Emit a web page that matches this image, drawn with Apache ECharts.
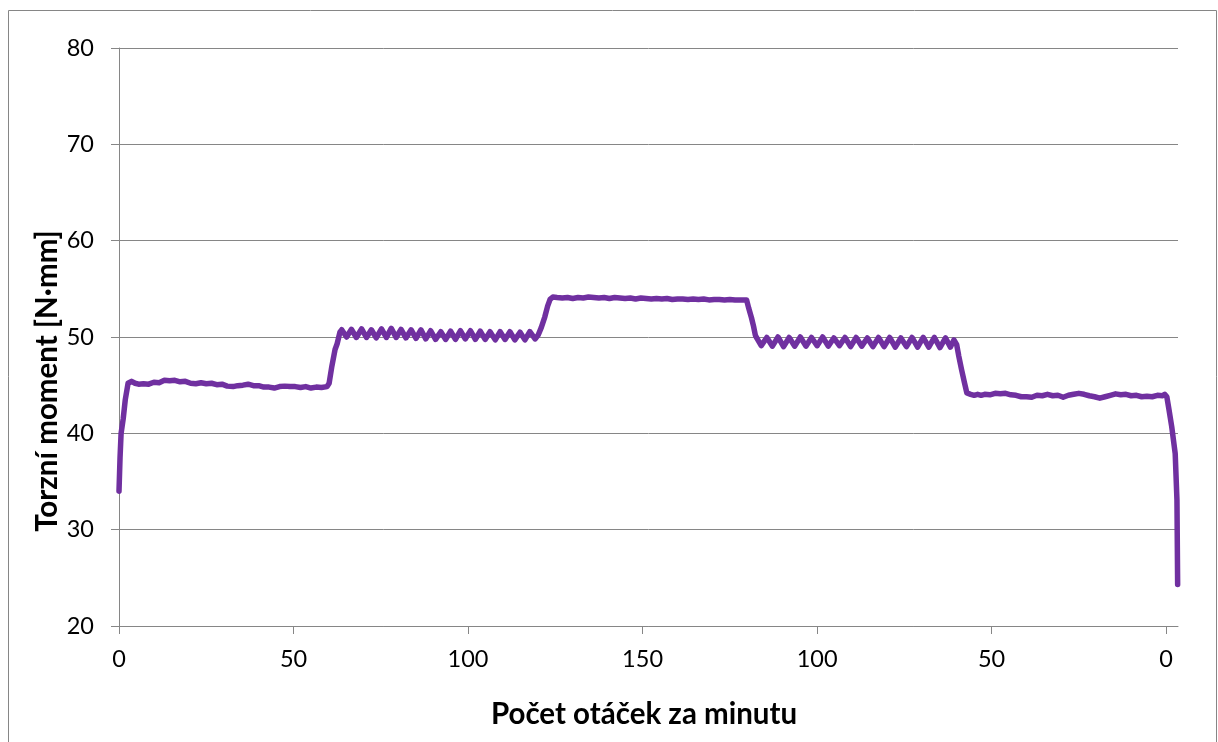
<!DOCTYPE html>
<html>
<head>
<meta charset="utf-8">
<script src="https://cdn.jsdelivr.net/npm/echarts@6/dist/echarts.min.js"></script>
<style>
  html, body { margin: 0; padding: 0; background: #fff; }
  #chart { width: 1218px; height: 742px; }
</style>
</head>
<body>
<div id="chart"></div>
<script>
// osa x: poloha v průběhu zkoušky (rozběh 0 -> 150 ot/min -> doběh zpět na 0)
const xTickValues = [0, 50, 100, 150, 200, 250, 300];
const xTickLabels = ["0", "50", "100", "150", "100", "50", "0"];
const yTicks = [20, 30, 40, 50, 60, 70, 80];
const xTitle = "Počet otáček za minutu";
const yTitle = "Torzní moment [N·mm]";

// [poloha, torzní moment]
const rozbeh = [
  [0, 34.0], [0.3, 37.5], [0.6, 40.0], [1.2, 41.5], [1.8, 43.5], [2.6, 45.2], [3.6, 45.4]
];
const stupen1 = [
  [4.6, 45.2], [5.6, 45.1], [7, 45.15], [8.5, 45.1], [10, 45.3], [11.5, 45.25], [13, 45.5],
  [14.5, 45.45], [16, 45.5], [17.5, 45.35], [19, 45.4], [20.5, 45.2], [22, 45.15], [23.5, 45.25],
  [25, 45.15], [26.5, 45.2], [28, 45.05], [29.5, 45.1], [31, 44.9], [32.7, 44.85], [34, 44.95],
  [35.5, 45.0], [37, 45.1], [38.5, 44.95], [40, 44.95], [41.5, 44.8], [43, 44.8], [44.5, 44.7],
  [46, 44.85], [47.5, 44.9], [49, 44.85], [50.5, 44.85], [52, 44.75], [53.5, 44.85], [55, 44.7],
  [56.5, 44.8], [58, 44.75], [59.6, 44.85]
];
const prechod12 = [
  [60.2, 45.2], [61, 47.0], [61.9, 48.7], [62.5, 49.3], [63.3, 50.5]
];
const stupen2 = [
  [63.8, 50.75], [65.2, 50.0], [66.6, 50.8], [68.0, 49.95], [69.5, 50.85], [70.9, 49.95],
  [72.3, 50.75], [73.7, 49.9], [75.2, 50.85], [76.6, 49.95], [78.0, 50.9], [79.4, 49.95],
  [80.8, 50.8], [82.2, 49.9], [83.7, 50.75], [85.1, 49.85], [86.5, 50.75], [87.9, 49.8],
  [89.3, 50.65], [90.7, 49.75], [92.2, 50.55], [93.6, 49.75], [95.0, 50.6], [96.4, 49.75],
  [97.8, 50.65], [99.2, 49.8], [100.7, 50.65], [102.1, 49.75], [103.5, 50.6], [104.9, 49.75],
  [106.3, 50.55], [107.8, 49.7], [109.2, 50.55], [110.6, 49.75], [112.0, 50.55], [113.4, 49.7],
  [114.9, 50.5], [116.3, 49.7], [117.7, 50.55], [119.2, 49.8]
];
const prechod23 = [
  [120.1, 50.2], [121, 51.0], [122, 52.1], [122.8, 53.2], [123.5, 53.9], [124.3, 54.15]
];
const stupen3 = [
  [125.5, 54.1], [127, 54.05], [128.5, 54.1], [130, 54.0], [131.5, 54.1], [133, 54.05],
  [134.5, 54.15], [136, 54.1], [137.5, 54.05], [139, 54.1], [140.5, 54.0], [142, 54.1],
  [143.5, 54.05], [145, 54.0], [146.5, 54.05], [148, 53.95], [149.5, 54.05], [151, 54.0],
  [152.5, 53.95], [154, 54.0], [155.5, 53.95], [157, 54.0], [158.5, 53.9], [160, 53.95],
  [161.5, 53.95], [163, 53.9], [164.5, 53.95], [166, 53.9], [167.5, 53.95], [169, 53.85],
  [170.5, 53.9], [172, 53.9], [173.5, 53.85], [175, 53.9], [176.5, 53.85], [178, 53.85],
  [179.8, 53.85]
];
const prechod34 = [
  [180.4, 53.0], [181.2, 52.0], [181.8, 51.1], [182.3, 50.2], [182.7, 49.9]
];
const stupen4 = [
  [184.0, 49.1], [185.6, 49.95], [187.2, 49.05], [188.8, 50.0], [190.4, 49.0], [192.0, 49.95],
  [193.6, 49.05], [195.2, 50.0], [196.8, 49.05], [198.4, 49.95], [200.0, 49.1], [201.6, 50.0],
  [203.2, 49.05], [204.8, 49.9], [206.4, 49.1], [208.0, 49.95], [209.6, 49.0], [211.2, 49.95],
  [212.8, 49.05], [214.4, 49.9], [216.0, 49.0], [217.6, 49.95], [219.2, 49.0], [220.8, 49.95],
  [222.4, 48.95], [224.0, 49.9], [225.6, 49.0], [227.2, 49.95], [228.8, 48.95], [230.4, 49.95],
  [232.0, 48.95], [233.6, 49.95], [235.2, 48.9], [236.8, 49.9], [238.2, 48.95], [239.2, 49.7]
];
const prechod45 = [
  [240.0, 49.2], [240.6, 48.0], [241.4, 46.6], [242.2, 45.3], [242.9, 44.2]
];
const stupen5 = [
  [244, 44.05], [245, 43.95], [246, 44.05], [247, 43.95], [248, 44.05], [249.5, 44.0], [251, 44.15],
  [252.5, 44.1], [254, 44.15], [255.5, 44.0], [257, 43.95], [258.5, 43.8], [260, 43.8], [261.5, 43.75],
  [263, 43.95], [264.5, 43.9], [266, 44.05], [267.5, 43.9], [269, 43.95], [270.5, 43.75], [272, 43.95],
  [273.5, 44.05], [275, 44.15], [276.5, 44.05], [278, 43.9], [279.5, 43.8], [281, 43.65], [282.5, 43.8],
  [284, 43.95], [285.5, 44.1], [287, 44.0], [288.5, 44.05], [290, 43.9], [291.5, 43.95], [293, 43.8],
  [294.5, 43.85], [296, 43.8], [297.5, 43.95], [299, 43.9], [299.6, 44.05], [300.2, 43.8]
];
const dobeh = [
  [300.8, 42.5], [301.6, 40.7], [302.2, 39.0], [302.6, 37.9], [303.1, 33.1], [303.3, 24.3]
];

const prubeh = [].concat(rozbeh, stupen1, prechod12, stupen2, prechod23, stupen3,
  prechod34, stupen4, prechod45, stupen5, dobeh);

const gray = "#868686";
const font = "Lato, 'Open Sans', sans-serif";
const titleFont = "bold 29.5px " + font;

const myChart = echarts.init(document.getElementById("chart"));
const option = {
  animation: false,
  backgroundColor: "#fff",
  graphic: [
    {
      type: "rect",
      shape: { x: 8.5, y: 10.5, width: 1208, height: 740 },
      style: { fill: "none", stroke: gray, lineWidth: 1 },
      silent: true
    },
    {
      // Excel centruje název osy y na celou výšku grafu, ne na plochu
      type: "text",
      x: 47,
      y: 381,
      rotation: Math.PI / 2,
      style: { text: yTitle, font: titleFont, fill: "#000", align: "center", verticalAlign: "middle" },
      silent: true
    },
    {
      type: "text",
      x: 644,
      y: 714,
      style: { text: xTitle, font: titleFont, fill: "#000", align: "center", verticalAlign: "middle" },
      silent: true
    }
  ],
  grid: { left: 119, right: 40, top: 48, bottom: 116 },
  xAxis: {
    type: "value",
    min: 0,
    max: 303.4,
    axisLine: { lineStyle: { color: gray, width: 1 } },
    axisTick: { show: true, length: 8, customValues: xTickValues, lineStyle: { color: gray } },
    axisLabel: {
      customValues: xTickValues,
      margin: 21,
      fontFamily: font,
      fontSize: 23.5,
      color: "#000",
      formatter: function (v) {
        const i = xTickValues.indexOf(v);
        return i >= 0 ? xTickLabels[i] : "";
      }
    },
    splitLine: { show: false }
  },
  yAxis: {
    type: "value",
    min: yTicks[0],
    max: yTicks[yTicks.length - 1],
    interval: 10,
    axisLine: { show: true, lineStyle: { color: gray, width: 1 } },
    axisTick: { show: true, length: 8, lineStyle: { color: gray } },
    axisLabel: { margin: 25, fontFamily: font, fontSize: 23.5, color: "#000" },
    splitLine: { show: true, lineStyle: { color: gray, width: 1 } }
  },
  series: [
    {
      type: "line",
      data: prubeh,
      showSymbol: false,
      clip: false,
      lineStyle: { color: "#7030A0", width: 5.5, join: "round", cap: "round" },
      itemStyle: { color: "#7030A0" }
    }
  ]
};
myChart.setOption(option);
</script>
</body>
</html>
